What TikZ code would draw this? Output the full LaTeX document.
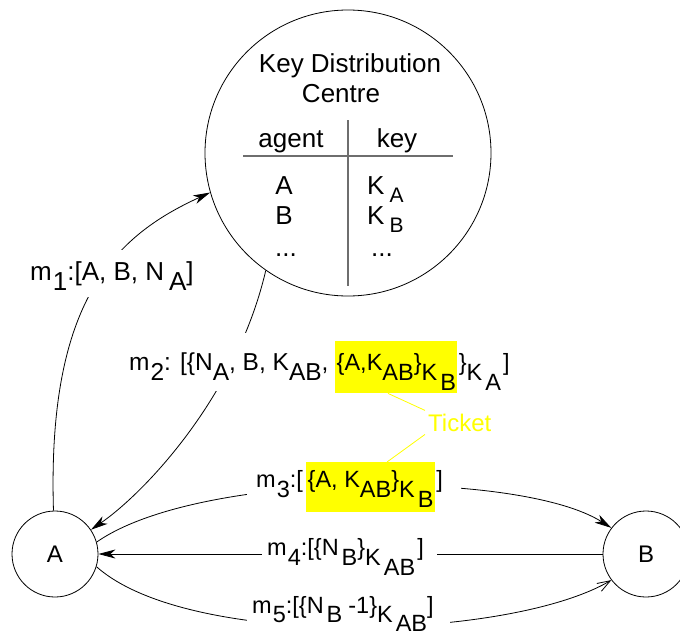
\documentclass[tikz,border=0pt]{standalone}
\usepackage{fontspec}
\setmainfont{Liberation Sans}
\usetikzlibrary{arrows.meta}
\pgfdeclarelayer{bg}
\pgfsetlayers{bg,main}
\newcommand\dn[1]{\raisebox{-10pt}{#1}}
\newcommand\sdn[1]{\raisebox{-9pt}{#1}}
\newcommand\kdn[1]{\raisebox{-8pt}{\fontsize{21}{24}\selectfont #1}}
\definecolor{tablegray}{RGB}{110,110,110}
\definecolor{hlyellow}{RGB}{255,255,0}
\begin{document}
\begin{tikzpicture}[x=1pt,y=-1pt,
  every node/.style={font=\fontsize{23.5}{28}\selectfont},
  conn/.style={line width=0.8pt},
  tip/.style={-{Stealth[length=17pt,width=9pt,inset=5pt]}},
  opentip/.style={-{Straight Barb[length=13pt,width=9pt]}},
  circ/.style={draw,circle,line width=0.8pt,inner sep=0pt},
  kdctext/.style={font=\fontsize{26}{30}\selectfont,inner sep=0pt},
  lab/.style={fill=white,inner ysep=0pt},
  hl/.style={fill=hlyellow,inner ysep=0pt,inner xsep=1.5pt},
  tick/.style={draw=hlyellow,line width=0.8pt},
  rule/.style={draw=tablegray,line width=1.2pt}
]
\useasboundingbox (0,0) rectangle (680,635);

% circles
\node[circ,minimum size=286pt] (KDC) at (348,153) {};
\node[circ,minimum size=86pt,font=\fontsize{24}{28}\selectfont] (A) at (55,554) {A};
\node[circ,minimum size=86pt,font=\fontsize{24}{28}\selectfont] (B) at (646,554) {B};

% KDC contents
\node[kdctext,anchor=base] (t1) at (350,72) {Key Distribution};
\node[kdctext,anchor=base] (t2) at (341,102) {Centre};
\node[kdctext,anchor=base] (hagent) at (291,147) {agent};
\node[kdctext,anchor=base] (hkey) at (397,147) {key};
\path[rule] (243,156) -- (453,156);
\path[rule] (348,120) -- (348,286);
\node[kdctext,anchor=base] (ra) at (284,194) {A};
\node[kdctext,anchor=base] (rb) at (284,224) {B};
\node[kdctext,anchor=base] (rd) at (286,256) {...};
\node[kdctext,anchor=base west] (ka) at (367,194) {K\kern5pt\kdn{A}};
\node[kdctext,anchor=base west] (kb) at (367,224) {K\kern5pt\kdn{B}};
\node[kdctext,anchor=base] (kd) at (382,256) {...};

% message labels
\node[lab,anchor=base west,text height=30pt,text depth=17pt,inner xsep=3pt,font=\fontsize{26}{30}\selectfont] (m1) at (27,280) {m\kern1pt\dn{1}:[A, B, N\kern5pt\dn{A}]};

\node[lab,anchor=base west,text height=37pt,text depth=21pt,inner xsep=2pt,font=\fontsize{24.5}{28}\selectfont] (m2a) at (127,370) {m\kern1pt\dn{2}: [\{N\dn{A}, B, K\dn{AB},};
\node[hl,anchor=north west,text height=29pt,text depth=23pt] (hl2) at (335,341) {\{A,K\dn{AB}\}\dn{K\kern3pt\dn{B}}};
\node[lab,anchor=base west,text height=37pt,text depth=21pt,inner xsep=1pt] (m2c) at (hl2.base east) {\}\dn{K\kern3pt\dn{A}}\kern2pt]};

\node[lab,anchor=base west,text height=25pt,text depth=20pt,inner xsep=9pt] (m3a) at (247,487) {m\kern1pt\dn{3}:[};
\node[hl,anchor=north west,text height=25pt,text depth=25pt] (hl3) at (306,462) {\{A, K\dn{AB}\}\dn{K\kern3pt\dn{B}}};
\node[lab,anchor=base west,text height=25pt,text depth=20pt,inner xsep=0pt] (m3c) at (hl3.base east) {\kern1pt]\kern18pt};

\node[lab,anchor=base west,text height=22pt,text depth=22pt,inner xsep=5pt] (m4) at (262,555) {m\kern1pt\dn{4}:[\{N\kern3pt\dn{B}\}\dn{K\kern3pt\dn{AB}}\kern2pt]\kern8pt};

\node[lab,anchor=base west,text height=24pt,text depth=19pt,inner xsep=5pt] (m5) at (247,613) {m\kern1pt\sdn{5}:[\{N\kern3pt\sdn{B}\kern6pt-1\}\sdn{K\kern3pt\sdn{AB}}]\kern11pt};

% ticket
\node[font=\fontsize{24}{28}\selectfont,text=hlyellow,anchor=base west,inner sep=3pt] (ticket) at (425,431) {Ticket};
\draw[tick] ([xshift=53pt]hl2.south west) -- (ticket.north west);
\draw[tick] (ticket.south west) -- ([xshift=81pt]hl3.north west);

% connectors
\begin{pgfonlayer}{bg}
\draw[conn,tip] (A.92) .. controls (47,300) and (115,236) .. (KDC.196);
\draw[conn,tip] (KDC.235) .. controls (236,398) and (143,494) .. (A.34);
\draw[conn,tip] (A.16) .. controls (200,470) and (520,470) .. (B.143);
\draw[conn,tip] (B.west) -- (A.east);
\draw[conn,opentip] (A.-17) .. controls (190,650) and (510,640) .. (B.217);
\end{pgfonlayer}
\end{tikzpicture}
\end{document}
